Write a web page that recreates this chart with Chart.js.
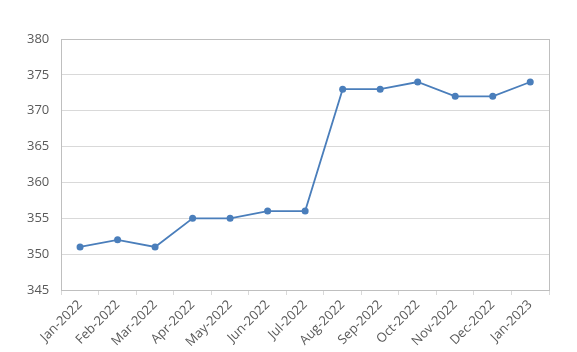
<!DOCTYPE html>
<html>
<head>
    <title>Monthly values</title>
    <script src="https://cdn.jsdelivr.net/npm/chart.js"></script>
    <style>
        body { margin: 0; background: #fff; }
        #wrap { width: 577px; height: 352px; }
    </style>
</head>
<body>
    <div id="wrap"><canvas id="lineChart"></canvas></div>
    <script>
        // data
        var months = ['Jan-2022', 'Feb-2022', 'Mar-2022', 'Apr-2022', 'May-2022', 'Jun-2022', 'Jul-2022',
                      'Aug-2022', 'Sep-2022', 'Oct-2022', 'Nov-2022', 'Dec-2022', 'Jan-2023'];
        var values = [351, 352, 351, 355, 355, 356, 356, 373, 373, 374, 372, 372, 374];
        var yMin = 345;
        var yMax = 380;
        var yStep = 5;

        // draws the grey box round the plot area
        var frame = {
            id: 'frame',
            beforeDatasetsDraw: function (chart) {
                var a = chart.chartArea;
                var ctx = chart.ctx;
                ctx.save();
                ctx.strokeStyle = '#bfbfbf';
                ctx.lineWidth = 1;
                ctx.strokeRect(Math.round(a.left) + 0.5, Math.round(a.top) + 0.5,
                    Math.round(a.right - a.left), Math.round(a.bottom - a.top));
                ctx.restore();
            }
        };

        var ctx = document.getElementById('lineChart').getContext('2d');
        new Chart(ctx, {
            type: 'line',
            data: {
                labels: months,
                datasets: [{
                    data: values,
                    borderColor: '#4a7ebb',
                    backgroundColor: '#4a7ebb',
                    borderWidth: 1.8,
                    pointRadius: 3.5,
                    pointBorderWidth: 0,
                    tension: 0,
                    fill: false
                }]
            },
            options: {
                responsive: true,
                maintainAspectRatio: false,
                animation: false,
                layout: { padding: { left: 15, right: 28, top: 39, bottom: 0 } },
                plugins: {
                    legend: { display: false },
                    tooltip: { enabled: false }
                },
                scales: {
                    x: {
                        offset: true,
                        grid: {
                            offset: true,
                            drawOnChartArea: false,
                            drawTicks: true,
                            tickLength: 5,
                            color: '#d9d9d9'
                        },
                        border: { display: true, color: '#bfbfbf' },
                        ticks: {
                            color: '#595959',
                            font: { family: 'Open Sans', size: 13 },
                            minRotation: 45,
                            maxRotation: 45,
                            autoSkip: false,
                            padding: 2
                        }
                    },
                    y: {
                        min: yMin,
                        max: yMax,
                        grid: { color: '#d9d9d9', drawTicks: false },
                        border: { display: true, color: '#bfbfbf' },
                        ticks: {
                            stepSize: yStep,
                            color: '#595959',
                            font: { family: 'Open Sans', size: 13 },
                            padding: 12
                        }
                    }
                }
            },
            plugins: [frame]
        });
    </script>
</body>
</html>
